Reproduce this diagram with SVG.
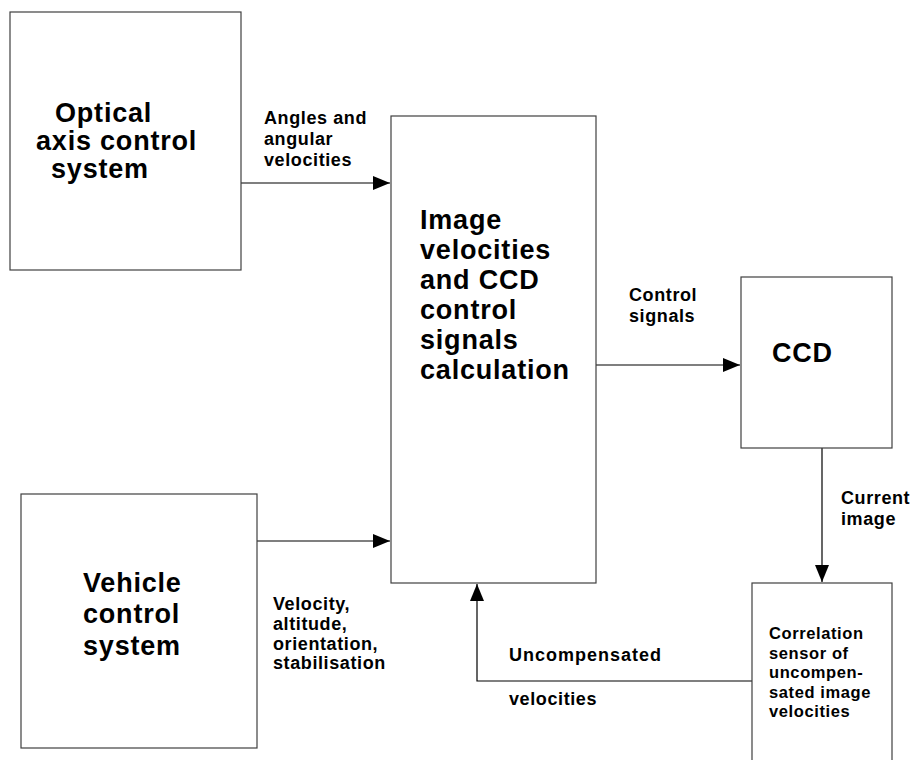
<svg xmlns="http://www.w3.org/2000/svg" width="915" height="760" viewBox="0 0 915 760">
<defs>
<style>
.box{fill:#fff;stroke:#404040;stroke-width:1.2}
.conn{fill:none;stroke:#000;stroke-width:1.2}
.big{font-family:"Liberation Sans",Arial,sans-serif;font-weight:bold;font-size:27px;letter-spacing:0.8px;fill:#000}
.sm{font-family:"Liberation Sans",Arial,sans-serif;font-weight:bold;font-size:18px;letter-spacing:0.6px;fill:#000}
.xs{font-family:"Liberation Sans",Arial,sans-serif;font-weight:bold;font-size:16.5px;letter-spacing:0.6px;fill:#000}
</style>
<marker id="arr" markerUnits="userSpaceOnUse" markerWidth="18" markerHeight="16" refX="17" refY="7" orient="auto">
<path d="M0,0 L17,7 L0,14 z" fill="#000"/>
</marker>
</defs>
<rect width="915" height="760" fill="#fff"/>
<g id="connectors">
<line class="conn" x1="241" y1="183" x2="390" y2="183" marker-end="url(#arr)"/>
<line class="conn" x1="257" y1="541" x2="390" y2="541" marker-end="url(#arr)"/>
<line class="conn" x1="596" y1="365" x2="740" y2="365" marker-end="url(#arr)"/>
<line class="conn" x1="822" y1="448" x2="822" y2="582" marker-end="url(#arr)"/>
<polyline class="conn" points="752,681 477,681 477,584" marker-end="url(#arr)"/>
</g>
<g id="optical">
<rect class="box" x="10" y="12" width="231" height="258"/>
<text class="big" x="55" y="122">Optical</text>
<text class="big" x="36" y="150">axis control</text>
<text class="big" x="51" y="178">system</text>
</g>
<g id="calc">
<rect class="box" x="391" y="116" width="205" height="467"/>
<text class="big" x="420" y="229">Image</text>
<text class="big" x="420" y="259">velocities</text>
<text class="big" x="420" y="289">and CCD</text>
<text class="big" x="420" y="319">control</text>
<text class="big" x="420" y="349">signals</text>
<text class="big" x="420" y="379">calculation</text>
</g>
<g id="ccd">
<rect class="box" x="741" y="277" width="151" height="171"/>
<text class="big" x="772" y="362">CCD</text>
</g>
<g id="vehicle">
<rect class="box" x="21" y="494" width="236" height="254"/>
<text class="big" x="83" y="592">Vehicle</text>
<text class="big" x="83" y="623">control</text>
<text class="big" x="83" y="655">system</text>
</g>
<g id="correlation">
<rect class="box" x="752" y="583" width="140" height="190"/>
<text class="xs" x="769" y="639">Correlation</text>
<text class="xs" x="769" y="659">sensor of</text>
<text class="xs" x="769" y="678">uncompen-</text>
<text class="xs" x="769" y="698">sated image</text>
<text class="xs" x="769" y="717">velocities</text>
</g>
<g id="labels">
<text class="sm" x="264" y="124">Angles and</text>
<text class="sm" x="264" y="145">angular</text>
<text class="sm" x="264" y="166">velocities</text>
<text class="sm" x="629" y="301">Control</text>
<text class="sm" x="629" y="322">signals</text>
<text class="sm" x="841" y="504">Current</text>
<text class="sm" x="841" y="525">image</text>
<text class="sm" x="273" y="610">Velocity,</text>
<text class="sm" x="273" y="630">altitude,</text>
<text class="sm" x="273" y="650">orientation,</text>
<text class="sm" x="273" y="669">stabilisation</text>
<text class="sm" x="509" y="661" style="letter-spacing:1px">Uncompensated</text>
<text class="sm" x="509" y="705">velocities</text>
</g>
</svg>
